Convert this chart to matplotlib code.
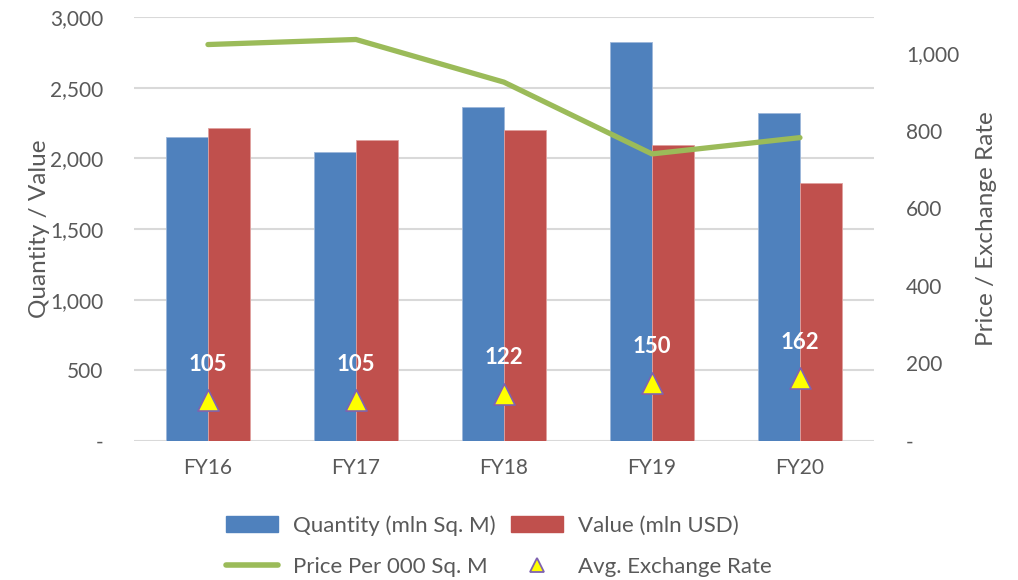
import numpy as np
import matplotlib.pyplot as plt
from matplotlib.patches import Patch
from matplotlib.lines import Line2D

plt.rcParams['font.family'] = ['Lato', 'DejaVu Sans']

years = ['FY16', 'FY17', 'FY18', 'FY19', 'FY20']
quantity = [2150, 2045, 2365, 2825, 2320]      # mln Sq. M
value = [2215, 2130, 2200, 2095, 1825]         # mln USD
price = [1022, 1035, 925, 740, 782]            # per 000 Sq. M
fx_rate = [105, 105, 122, 150, 162]

BLUE = '#4F81BD'
RED = '#C0504D'
GREEN = '#9BBB59'
GREY = '#595959'

fig = plt.figure(figsize=(10.18, 5.80), dpi=100)
ax = fig.add_axes([0.1316, 0.2397, 0.7269, 0.7310])
ax2 = ax.twinx()

x = np.arange(len(years))
w = 0.285
ax.bar(x - w / 2, quantity, w, color=BLUE, edgecolor='#9DB7DA', linewidth=0.6, zorder=2)
ax.bar(x + w / 2, value, w, color=RED, edgecolor='#E0A09E', linewidth=0.6, zorder=2)

ax.set_xlim(-0.5, len(years) - 0.5)
ax.set_ylim(0, 3000)
ax.set_yticks(range(0, 3001, 500))
ax.set_yticklabels(['-'] + [f'{v:,}' for v in range(500, 3001, 500)])
ax.set_xticks(x)
ax.set_xticklabels(years)
ax.grid(axis='y', color='#D9D9D9', linewidth=1.5, zorder=0)
ax.set_axisbelow(True)
ax.tick_params(axis='both', length=0, labelsize=15, labelcolor=GREY)
ax.tick_params(axis='x', pad=12)
ax.tick_params(axis='y', pad=22)
ax.set_ylabel('Quantity / Value', fontsize=17.5, color=GREY, labelpad=0)

ax2.plot(x, price, color=GREEN, linewidth=3.8, solid_capstyle='round', zorder=3)
ax2.scatter(x, fx_rate, marker='^', s=230, color='#FFFF00', edgecolor='#7F62B0',
            linewidth=1.2, zorder=4)
for xi, r in zip(x, fx_rate):
    ax2.annotate(f'{r}', (xi, r), xytext=(0, 26), textcoords='offset points',
                 ha='center', va='center', color='white', fontsize=16, fontweight='bold')
ax2.set_ylim(0, 1093)
ax2.set_yticks(range(0, 1001, 200))
ax2.set_yticklabels(['-'] + [f'{v:,}' for v in range(200, 1001, 200)])
ax2.tick_params(axis='y', length=0, labelsize=15, labelcolor=GREY, pad=23)
ax2.set_ylabel('Price / Exchange Rate', fontsize=17.5, color=GREY, labelpad=12)

for a in (ax, ax2):
    for s in a.spines.values():
        s.set_visible(False)

handles = [
    Patch(color=BLUE, label='Quantity (mln Sq. M)'),
    Line2D([], [], color=GREEN, linewidth=4, solid_capstyle='round', label='Price Per 000 Sq. M'),
    Patch(color=RED, label='Value (mln USD)'),
    Line2D([], [], marker='^', linestyle='none', markersize=10, markerfacecolor='#FFFF00',
           markeredgecolor='#7F62B0', markeredgewidth=1.3, label='Avg. Exchange Rate'),
]
leg = fig.legend(handles=handles, ncol=2, loc='center', bbox_to_anchor=(0.49, 0.0586),
                 frameon=False, fontsize=16, handlelength=2.35, handleheight=0.75,
                 labelspacing=0.95, columnspacing=0.7, handletextpad=0.68)
for t in leg.get_texts():
    t.set_color(GREY)

fig.savefig('out.png', dpi=100)
